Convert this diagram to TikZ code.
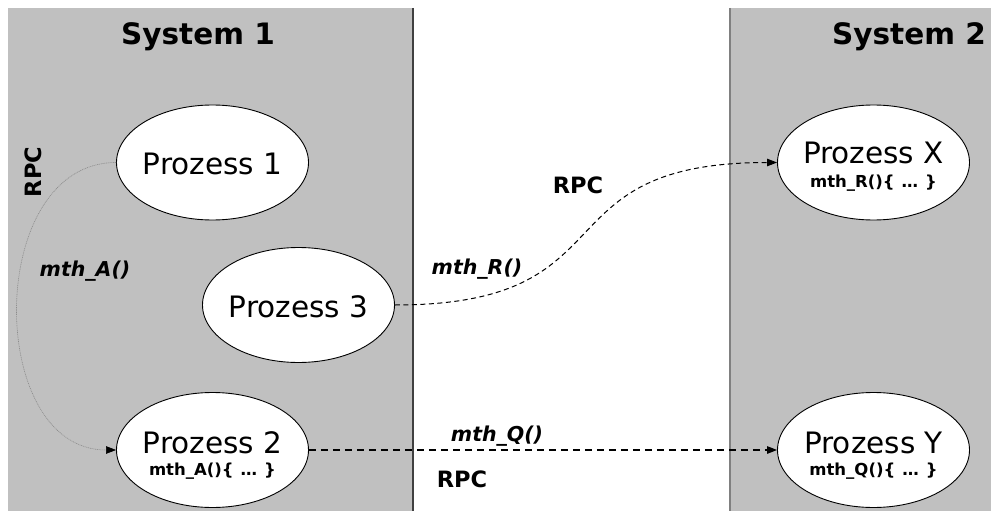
\documentclass[tikz,border=0pt]{standalone}
\usepackage{fontspec}
\setmainfont{DejaVu Sans}[BoldFont={DejaVu Sans Bold},ItalicFont={DejaVu Sans Oblique},BoldItalicFont={DejaVu Sans Bold Oblique}]
\usetikzlibrary{shapes.geometric,arrows.meta}
\definecolor{panel}{HTML}{C0C0C0}
\begin{document}
\begin{tikzpicture}[x=1pt,y=-1pt,
  proc/.style={ellipse, draw=black, line width=0.9pt, fill=white, minimum width=192pt, minimum height=115pt, inner sep=0pt},
  ptext/.style={anchor=base, font=\fontsize{29.5}{34}\selectfont},
  psub/.style={anchor=base, font=\fontsize{16.5}{20}\selectfont\bfseries},
  title/.style={anchor=base, font=\fontsize{29.5}{34}\selectfont\bfseries},
  meth/.style={anchor=base, font=\fontsize{20.5}{24}\selectfont\bfseries\itshape},
  rpc/.style={anchor=base, font=\fontsize{22.5}{26}\selectfont\bfseries},
  tip/.style={-{Triangle[length=10pt,width=7.5pt,color=black]}},
  ]
\useasboundingbox (0,0) rectangle (991,511);
% panels
\fill[panel] (8,8) rectangle (413,511);
\fill[panel] (730,8) rectangle (991,511);
\draw[draw=black!75, line width=1.1pt] (413,8) -- (413,511);
\draw[draw=black!50, line width=1.5pt] (730,8) -- (730,511);
% titles
\node[title] (s1) at (198,45) {System 1};
\node[title] (s2) at (909,45) {System 2};
% processes
\node[proc] (p1) at (212.5,162.5) {};
\node[ptext] (p1t) at ([yshift=-12pt]p1.center) {Prozess 1};
\node[proc] (p3) at (298.5,305) {};
\node[ptext] (p3t) at ([yshift=-12pt]p3.center) {Prozess 3};
\node[proc] (p2) at (212.5,450) {};
\node[ptext] (p2t) at ([yshift=-3pt]p2.center) {Prozess 2};
\node[psub] (p2s) at ([yshift=-25pt]p2.center) {mth\_A()\{\hspace{7pt}…\hspace{7pt}\}};
\node[proc] (px) at (873.5,162.5) {};
\node[ptext] (pxt) at ([yshift=-1pt]px.center) {Prozess X};
\node[psub] (pxs) at ([yshift=-25pt]px.center) {mth\_R()\{\hspace{7pt}…\hspace{7pt}\}};
\node[proc] (py) at (873.5,450) {};
\node[ptext] (pyt) at ([yshift=-3pt]py.center) {Prozess Y};
\node[psub] (pys) at ([yshift=-25pt]py.center) {mth\_Q()\{\hspace{7pt}…\hspace{7pt}\}};
% connectors
\draw[tip, draw=black!45, line width=0.6pt, dash pattern=on 1pt off 0.8pt]
  (p1.west) .. controls (-15,162.5) and (-15,450) .. (p2.west);
\draw[tip, line width=1pt, dash pattern=on 5pt off 3.5pt]
  (p3.east) .. controls (635,305) and (535,162.5) .. (px.west);
\draw[tip, line width=1.2pt, dash pattern=on 7pt off 5pt] (p2.east) -- (py.west);
% connector labels
\node[rpc, anchor=center, rotate=90] (rpcA) at (33,172) {RPC};
\node[meth] (mA) at (85,276) {mth\_A()};
\node[meth] (mR) at (477,274) {mth\_R()};
\node[rpc] (rpcR) at (578,193) {RPC};
\node[meth] (mQ) at (497,441) {mth\_Q()};
\node[rpc] (rpcQ) at (462,487) {RPC};
\end{tikzpicture}
\end{document}
